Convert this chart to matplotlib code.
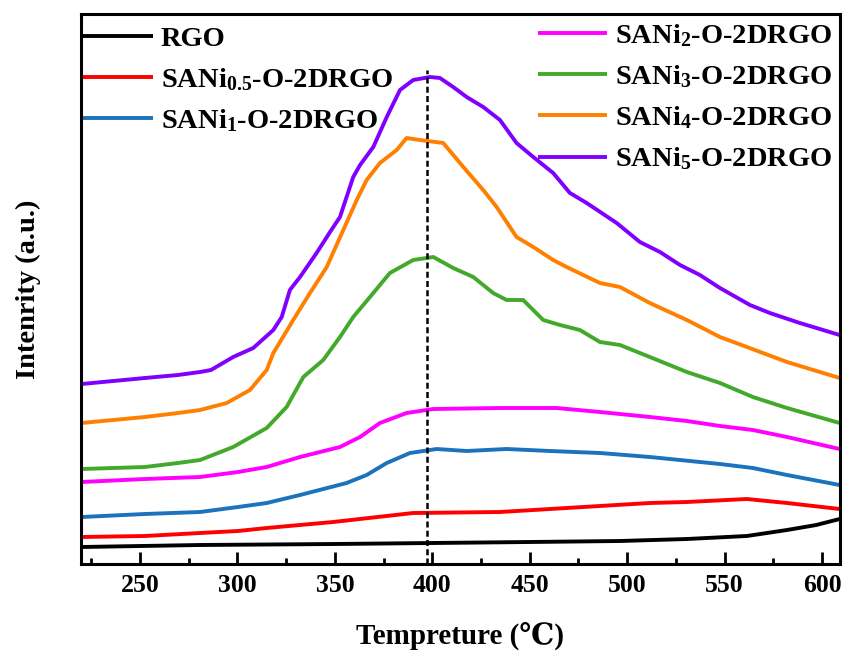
import numpy as np
import matplotlib
matplotlib.use('Agg')
import matplotlib.pyplot as plt

plt.rcParams['font.family'] = ['Liberation Serif', 'DejaVu Serif']
plt.rcParams['font.weight'] = 'bold'
plt.rcParams['mathtext.fontset'] = 'custom'
plt.rcParams['mathtext.rm'] = 'Liberation Serif:bold'
plt.rcParams['mathtext.it'] = 'Liberation Serif:bold'
plt.rcParams['mathtext.bf'] = 'Liberation Serif:bold'
plt.rcParams['mathtext.default'] = 'rm'

########### DATA (intensity in arbitrary units)
t_rgo = [220, 280.8, 350, 400, 450, 496.3, 530.6, 561.4, 582, 597, 609]
i_rgo = [17, 19, 20, 21, 22, 23, 25, 28, 34, 39, 45]

t_ni05 = [220, 252.5, 280.8, 300.3, 315, 349.1, 390.2, 434.7, 468.9, 511.6, 530.6, 561.4, 582, 609]
i_ni05 = [27, 28, 31, 33, 36, 42, 51, 52, 56, 61, 62, 65, 61, 55]

t_ni1 = [220, 252.5, 280.8, 300.3, 315, 332.1, 356, 366.3, 376.6, 388.5, 402.2, 417.6, 438.1,
         460.3, 486, 511.6, 521.9, 547.6, 564.5, 582, 609]
i_ni1 = [47, 50, 52, 57, 61, 69, 81, 89, 101, 111, 115, 113, 115,
         113, 111, 107, 105, 100, 96, 89, 79]

t_ni2 = [220, 252.5, 280.8, 300.3, 315, 332.1, 352.6, 362.9, 373.1, 386.8, 400.5, 434.7,
         463.8, 486, 511.6, 530.6, 547.6, 564.5, 582, 609]
i_ni2 = [82, 85, 87, 92, 97, 107, 117, 127, 141, 151, 155, 156,
         156, 152, 147, 143, 138, 134, 127, 115]

t_ni3 = [220, 252.5, 269.5, 280.8, 297.8, 315, 325.2, 333.8, 344, 352.6, 359.4, 368, 378.2,
         390.2, 400.5, 410.7, 421, 431.2, 438.1, 446.6, 456.9, 465.5, 475.7, 486, 496.3,
         511.6, 530.6, 547.6, 564.5, 582, 609]
i_ni3 = [95, 97, 101, 104, 117, 136, 157, 187, 204, 227, 247, 267, 291,
         304, 307, 296, 287, 271, 264, 264, 244, 239, 234, 222, 219,
         207, 192, 181, 167, 156, 141]

t_ni4 = [220, 252.5, 269.5, 280.8, 294.5, 306.4, 315, 318.4, 328.6, 337.2, 345.8, 354.3,
         361.2, 366.3, 373.1, 381.7, 386.8, 393.6, 405.6, 415.9, 426.1, 433, 443.2,
         451.8, 462, 468.9, 486, 496.3, 511.6, 530.6, 547.6, 561.4, 582, 609]
i_ni4 = [141, 147, 151, 154, 161, 174, 194, 211, 244, 271, 297, 334,
         364, 384, 401, 414, 426, 424, 421, 397, 374, 357, 327,
         317, 304, 297, 281, 277, 261, 244, 227, 217, 202, 186]

t_ni5 = [220, 252.5, 269.5, 280.8, 286.4, 297.8, 308.1, 318.4, 322.7, 326.9, 332.1, 340.6,
         347.5, 352.6, 356, 359.4, 362.9, 369.7, 376.6, 383.4, 390.2, 398.8, 403.9,
         410.7, 417.6, 426.1, 434.7, 443.2, 451.8, 462, 470.6, 479.2, 494.6, 506.5,
         516.8, 527.1, 537.3, 547.6, 563, 573.2, 588.6, 609]
i_ni5 = [180, 186, 189, 192, 194, 207, 216, 234, 247, 274, 287, 311,
         332, 347, 367, 387, 399, 417, 447, 474, 484, 487, 486,
         477, 467, 457, 444, 421, 407, 391, 371, 361, 341, 322,
         312, 299, 289, 276, 259, 251, 241, 229]

series = [
    (t_rgo, i_rgo, '#000000', 'RGO'),
    (t_ni05, i_ni05, '#FF0000', r'SANi$_{0.5}$-O-2DRGO'),
    (t_ni1, i_ni1, '#1B72BD', r'SANi$_{1}$-O-2DRGO'),
    (t_ni2, i_ni2, '#FF00FF', r'SANi$_{2}$-O-2DRGO'),
    (t_ni3, i_ni3, '#43A92A', r'SANi$_{3}$-O-2DRGO'),
    (t_ni4, i_ni4, '#FF8000', r'SANi$_{4}$-O-2DRGO'),
    (t_ni5, i_ni5, '#8000FF', r'SANi$_{5}$-O-2DRGO'),
]
peak_t = 397.5
peak_top = 494

x_ticks = [250, 300, 350, 400, 450, 500, 550, 600]


def main():
    fig = plt.figure(figsize=(8.43, 6.51), dpi=100)
    ax = fig.add_axes([81 / 843, 1 - 564 / 651, 759 / 843, 550 / 651])

    lines = []
    for t, i, c, lab in series:
        ln, = ax.plot(t, i, color=c, lw=2.8, label=lab, solid_capstyle='butt')
        lines.append(ln)

    ax.plot([peak_t, peak_t], [0, peak_top], color='k', lw=1.8, ls=(0, (2.4, 1.3)))

    ax.set_xlim(219.7, 609.2)
    ax.set_ylim(0, 550)
    ax.set_xticks(x_ticks)
    ax.set_xticks(np.arange(225, 609, 50), minor=True)
    ax.set_yticks([])
    ax.tick_params(axis='x', which='major', direction='in', length=8.5, width=2,
                   labelsize=18.5, pad=7, top=False)
    ax.tick_params(axis='x', which='minor', direction='in', length=4.5, width=2, top=False)
    for s in ax.spines.values():
        s.set_linewidth(2.2)

    ax.set_xlabel('Tempreture (\u2103)', fontsize=21, fontweight='bold', labelpad=18,
                  family=['Liberation Serif', 'DejaVu Serif'])
    ax.set_ylabel('Intenrity (a.u.)', fontsize=20.5, fontweight='bold', labelpad=29)

    kw = dict(frameon=False, fontsize=20.5, handlelength=2.44, handletextpad=0.28,
              borderpad=0, borderaxespad=0, loc='upper left')
    leg1 = ax.legend(handles=lines[:3], bbox_to_anchor=(0.003, 0.978), labelspacing=0.5, **kw)
    ax.add_artist(leg1)
    ax.legend(handles=lines[3:], bbox_to_anchor=(0.602, 0.985), labelspacing=0.5, **kw)

    fig.savefig('out.png', dpi=100)


if __name__ == '__main__':
    main()
